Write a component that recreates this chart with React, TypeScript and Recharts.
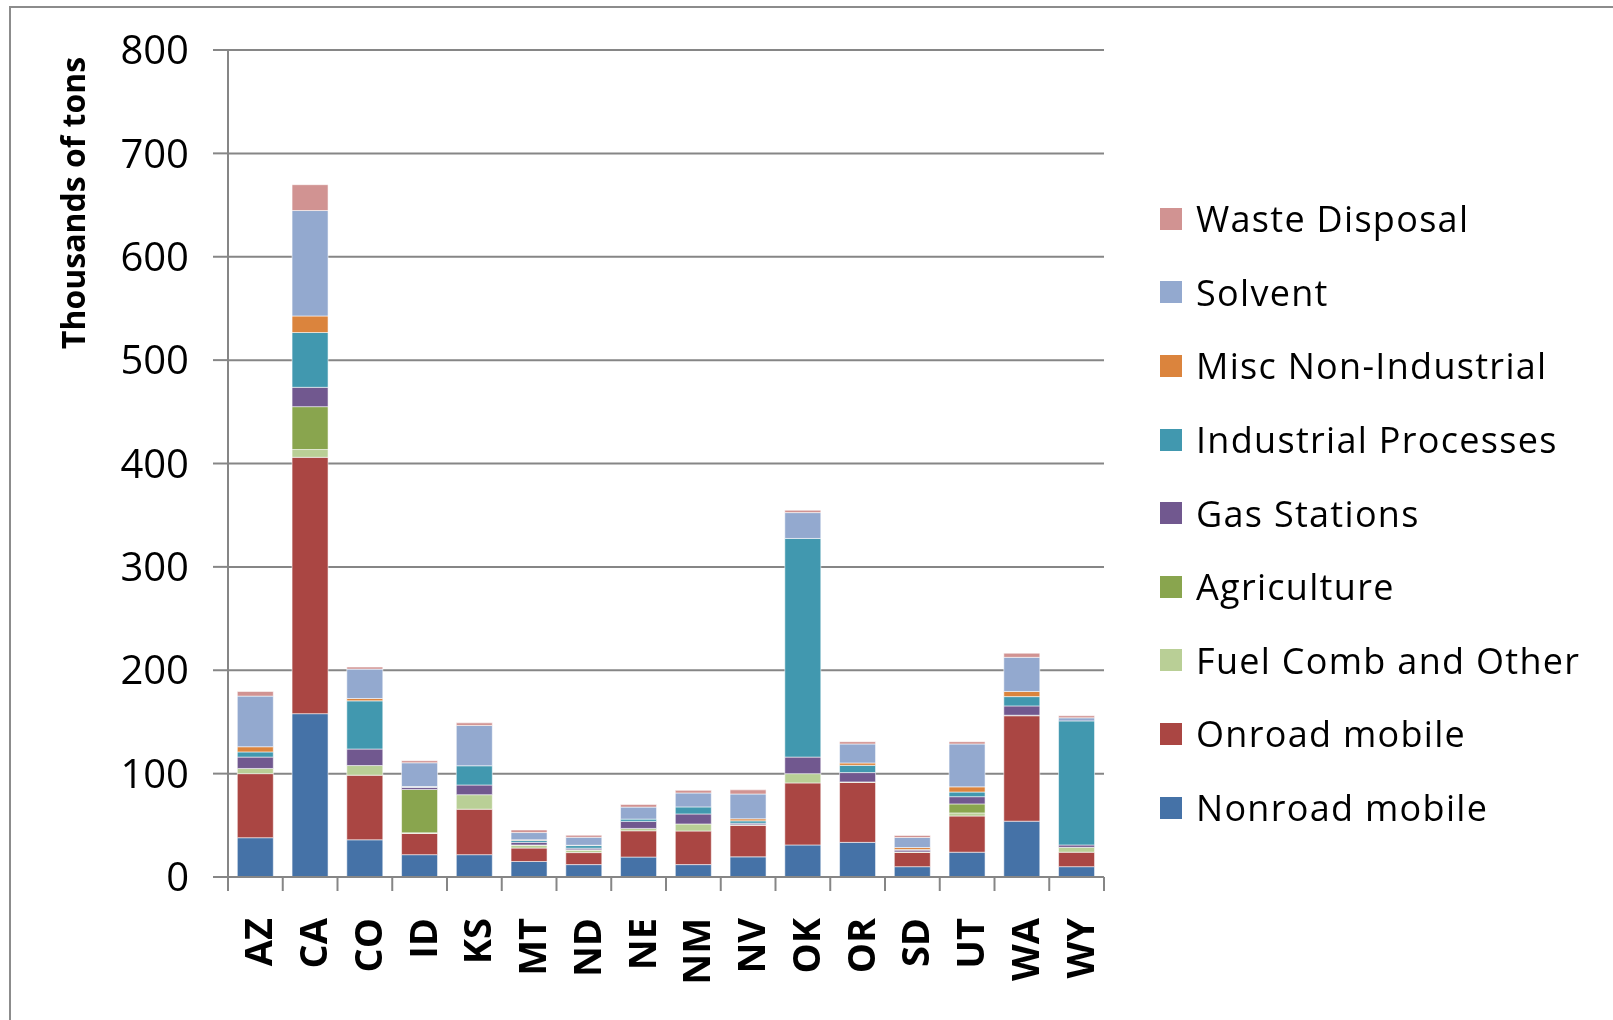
import React from 'react';
import { BarChart, Bar, XAxis, YAxis, CartesianGrid } from 'recharts';

const states = ['AZ', 'CA', 'CO', 'ID', 'KS', 'MT', 'ND', 'NE', 'NM', 'NV', 'OK', 'OR', 'SD', 'UT', 'WA', 'WY'];
const nonroad = [38, 158, 36, 21.6, 21.6, 15, 12, 19.3, 12, 19.5, 31, 33.5, 10, 24, 54, 10];
const onroad = [62, 248, 62.5, 20.6, 44, 13, 11.6, 25.4, 32.5, 30.5, 60, 58, 13.8, 35, 102, 14];
const fuelComb = [5, 7.5, 9.3, 0.5, 14, 2.5, 2.2, 2.3, 6.8, 0.5, 9, 0.5, 0.5, 3, 0.5, 4.7];
const agriculture = [0, 41.5, 0, 42, 0, 0.5, 0.5, 0, 0, 0, 0, 0, 0, 8.7, 0, 0];
const gasStations = [11, 18.7, 16, 2, 9.4, 2.5, 1.6, 6.8, 9.7, 1.5, 16, 9, 1.7, 7, 9, 2.3];
const industrial = [5, 53, 46.6, 0.5, 18.6, 2, 2.5, 2.2, 6.8, 2.3, 211.5, 7, 0.5, 4.5, 9, 120];
const miscNonInd = [5, 16, 2.3, 0.3, 0, 0.5, 0.3, 0, 0, 2, 0, 2.3, 2, 5, 5, 0];
const solvent = [49, 102, 28.4, 23, 39, 7, 7.7, 11.6, 13.5, 24, 25, 18.4, 9.7, 41.5, 33, 3];
const wasteDisposal = [4.5, 25, 2, 2, 2.5, 2.5, 2, 2.6, 2.5, 4, 2.3, 2.2, 2, 2.2, 4, 2];
const yTicks = [0, 100, 200, 300, 400, 500, 600, 700, 800];

const series = [
  { key: 'nonroad', name: 'Nonroad mobile', color: '#4572A7', values: nonroad },
  { key: 'onroad', name: 'Onroad mobile', color: '#AA4643', values: onroad },
  { key: 'fuel', name: 'Fuel Comb and Other', color: '#B9CF96', values: fuelComb },
  { key: 'agri', name: 'Agriculture', color: '#89A54E', values: agriculture },
  { key: 'gas', name: 'Gas Stations', color: '#71588F', values: gasStations },
  { key: 'indus', name: 'Industrial Processes', color: '#4198AF', values: industrial },
  { key: 'misc', name: 'Misc Non-Industrial', color: '#DB843D', values: miscNonInd },
  { key: 'solvent', name: 'Solvent', color: '#93A9CF', values: solvent },
  { key: 'waste', name: 'Waste Disposal', color: '#D19392', values: wasteDisposal },
];

const data = states.map((s, i) => {
  const row: any = { state: s };
  series.forEach((sr) => {
    row[sr.key] = sr.values[i];
  });
  return row;
});

const FONT = '"Open Sans", sans-serif';
const GRID = '#868686';
const W = 1597;
const H = 1004;
const M = { top: 42, right: 501, bottom: 35, left: 120 };
const plotW = W - M.left - 100 - M.right;
const band = plotW / states.length;

const XTick = (props: any) => {
  const { x, y, payload, index } = props;
  return (
    <g>
      <line x1={x - band / 2} x2={x - band / 2} y1={y} y2={y + 14} stroke={GRID} strokeWidth={2} />
      {index === states.length - 1 && (
        <line x1={x + band / 2} x2={x + band / 2} y1={y} y2={y + 14} stroke={GRID} strokeWidth={2} />
      )}
      <text
        transform={`translate(${x + 2},${y + 41}) rotate(-90)`}
        textAnchor="end"
        dominantBaseline="central"
        fontFamily={FONT}
        fontWeight="bold"
        fontSize={38}
        fill="#000"
      >
        {payload.value}
      </text>
    </g>
  );
};

const LegendBox = () => {
  const items = [...series].reverse();
  return (
    <div style={{ position: 'absolute', left: 1152, top: 174, width: 450, fontFamily: FONT }}>
      {items.map((it) => (
        <div key={it.key} style={{ height: 73.6, display: 'flex', alignItems: 'center' }}>
          <div style={{ width: 22, height: 22, background: it.color, marginRight: 14, flexShrink: 0 }} />
          <span style={{ fontSize: 36, letterSpacing: 1.3, color: '#000', whiteSpace: 'nowrap' }}>{it.name}</span>
        </div>
      ))}
    </div>
  );
};

export default function App() {
  return (
    <div style={{ position: 'relative', width: W, height: H }}>
      <div
        style={{
          position: 'fixed',
          left: 9,
          top: 6,
          width: 1700,
          height: 1100,
          border: '2px solid #8c8c8c',
          pointerEvents: 'none',
        }}
      />
      <BarChart width={W} height={H} data={data} margin={M} barCategoryGap="17%">
        <CartesianGrid vertical={false} stroke={GRID} strokeWidth={2} />
        <XAxis
          dataKey="state"
          height={100}
          axisLine={{ stroke: GRID, strokeWidth: 2 }}
          tickLine={false}
          tickSize={0}
          tickMargin={0}
          interval={0}
          tick={<XTick />}
        />
        <YAxis
          width={100}
          domain={[0, 800]}
          ticks={yTicks}
          interval={0}
          axisLine={{ stroke: GRID, strokeWidth: 2 }}
          tickLine={{ stroke: GRID, strokeWidth: 2 }}
          tickSize={15}
          tickMargin={24}
          tick={{ fill: '#000', fontSize: 40, fontFamily: FONT }}
          label={{
            content: () => (
              <text
                x={64}
                y={195}
                transform="rotate(-90, 64, 195)"
                textAnchor="middle"
                dominantBaseline="central"
                fontFamily={FONT}
                fontWeight="bold"
                fontSize={32}
                fill="#000"
              >
                Thousands of tons
              </text>
            ),
          }}
        />
        {series.map((s) => (
          <Bar
            key={s.key}
            dataKey={s.key}
            name={s.name}
            stackId="a"
            fill={s.color}
            stroke="rgba(255,255,255,0.55)"
            strokeWidth={1}
            isAnimationActive={false}
          />
        ))}
      </BarChart>
      <LegendBox />
    </div>
  );
}
